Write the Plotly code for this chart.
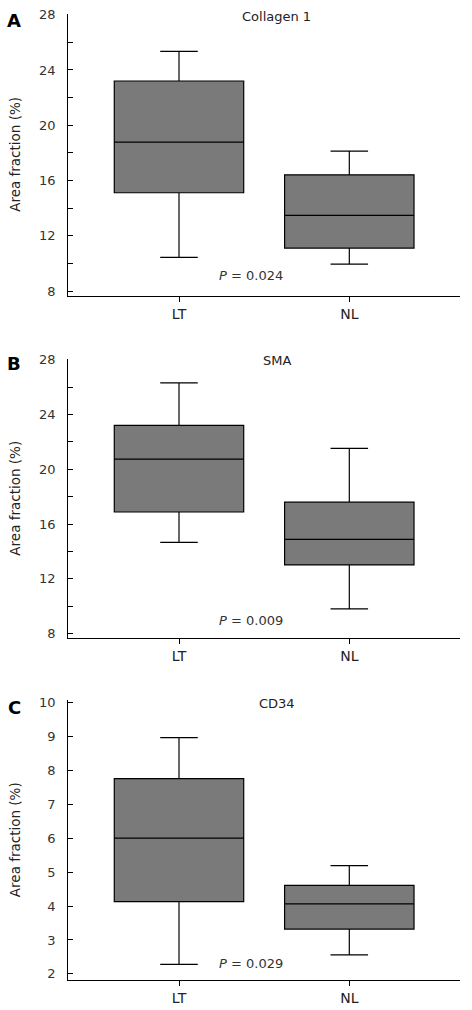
import plotly.graph_objects as go

# ---------------- data ----------------
groups = ["LT", "NL"]
panel_titles = ["Collagen 1", "SMA", "CD34"]
panel_letters = ["A", "B", "C"]
p_values = ["0.024", "0.009", "0.029"]

collagen_lower = [10.44, 9.94]
collagen_q1 = [15.11, 11.11]
collagen_median = [18.77, 13.47]
collagen_q3 = [23.20, 16.41]
collagen_upper = [25.34, 18.13]

sma_lower = [14.67, 9.81]
sma_q1 = [16.88, 13.02]
sma_median = [20.74, 14.88]
sma_q3 = [23.21, 17.60]
sma_upper = [26.31, 21.52]

cd34_lower = [2.28, 2.56]
cd34_q1 = [4.13, 3.32]
cd34_median = [6.00, 4.06]
cd34_q3 = [7.75, 4.61]
cd34_upper = [8.96, 5.19]

ab_tick_values = [8, 10, 12, 14, 16, 18, 20, 22, 24, 26, 28]
ab_tick_labels = ["8", "", "12", "", "16", "", "20", "", "24", "", "28"]
c_tick_values = [2, 3, 4, 5, 6, 7, 8, 9, 10]
c_tick_labels = ["2", "3", "4", "5", "6", "7", "8", "9", "10"]

# ---------------- layout geometry (pixels) ----------------
W, H = 472, 1010
FONT = "DejaVu Sans, Verdana, sans-serif"
x_dom = [68.3 / W, 460 / W]
panels_px = [(14, 295.7), (359, 638.3), (700.3, 980)]  # top, bottom
y_ranges = [[7.66, 28.05], [7.66, 28.05], [1.82, 10.06]]
tick_vals = [ab_tick_values, ab_tick_values, c_tick_values]
tick_texts = [ab_tick_labels, ab_tick_labels, c_tick_labels]
title_y_px = [16, 360, 703]
letter_y_px = [20, 363, 707]
p_y_px = [275, 620, 963]

stats = [
    (collagen_lower, collagen_q1, collagen_median, collagen_q3, collagen_upper),
    (sma_lower, sma_q1, sma_median, sma_q3, sma_upper),
    (cd34_lower, cd34_q1, cd34_median, cd34_q3, cd34_upper),
]

fig = go.Figure()
annotations = []
layout_axes = {}

for i in range(3):
    sfx = "" if i == 0 else str(i + 1)
    lo, q1, md, q3, up = stats[i]
    fig.add_trace(go.Box(
        x=groups, lowerfence=lo, q1=q1, median=md, q3=q3, upperfence=up,
        fillcolor="#7a7a7a", line=dict(color="black", width=1.2),
        width=0.76, whiskerwidth=0.29, boxpoints=False,
        xaxis="x" + sfx, yaxis="y" + sfx, showlegend=False,
    ))
    top, bot = panels_px[i]
    layout_axes["xaxis" + sfx] = dict(
        domain=x_dom, anchor="y" + sfx, type="category", automargin=False,
        range=[-0.65, 1.65], showline=True, linecolor="black", linewidth=1.3,
        ticks="outside", ticklen=5, tickcolor="black", tickwidth=1.2,
        tickfont=dict(family=FONT, size=14, color="#222"),
        showgrid=False, zeroline=False,
    )
    layout_axes["yaxis" + sfx] = dict(
        domain=[1 - bot / H, 1 - top / H], anchor="x" + sfx, automargin=False,
        range=y_ranges[i], tickmode="array", tickvals=tick_vals[i], ticktext=tick_texts[i],
        showline=True, linecolor="black", linewidth=1.3,
        ticks="inside", ticklen=5, tickcolor="black", tickwidth=1.2,
        ticklabelstandoff=9,
        tickfont=dict(family=FONT, size=13, color="#333"),
        showgrid=False, zeroline=False,
    )
    annotations.append(dict(
        text=panel_titles[i], x=276.7 / W, y=1 - title_y_px[i] / H,
        xref="paper", yref="paper", xanchor="center", yanchor="middle",
        showarrow=False, font=dict(family=FONT, size=13, color="#222"),
    ))
    annotations.append(dict(
        text="<b>" + panel_letters[i] + "</b>", x=14 / W, y=1 - letter_y_px[i] / H,
        xref="paper", yref="paper", xanchor="center", yanchor="middle",
        showarrow=False, font=dict(family="DejaVu Sans, Verdana, sans-serif", size=18, color="black"),
    ))
    annotations.append(dict(
        text="<i>P</i> = " + p_values[i], x=251 / W, y=1 - p_y_px[i] / H,
        xref="paper", yref="paper", xanchor="center", yanchor="middle",
        showarrow=False, font=dict(family=FONT, size=13, color="#333"),
    ))
    annotations.append(dict(
        text="Area fraction (%)", x=15 / W, y=1 - ((top + bot) / 2) / H,
        xref="paper", yref="paper", xanchor="center", yanchor="middle",
        textangle=-90, showarrow=False, font=dict(family=FONT, size=13.5, color="#222"),
    ))

fig.update_layout(
    width=W, height=H, margin=dict(l=0, r=0, t=0, b=0, autoexpand=False),
    paper_bgcolor="white", plot_bgcolor="white",
    annotations=annotations, showlegend=False,
    **layout_axes,
)

fig.write_html(
    "out.html",
    config={"displayModeBar": False},
    post_script="document.body.style.margin='0';document.body.style.overflow='hidden';",
)
